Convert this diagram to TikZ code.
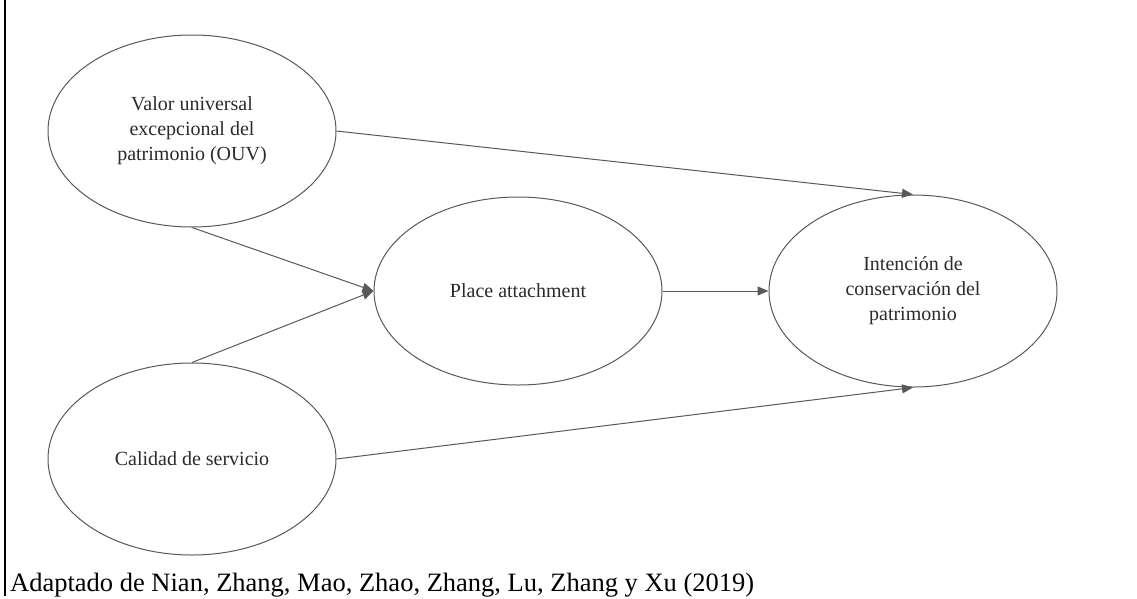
\documentclass[tikz,border=0pt]{standalone}
\usepackage{fontspec}
\setmainfont{Liberation Serif}
\usetikzlibrary{shapes.geometric,arrows.meta}
\definecolor{linegray}{HTML}{595959}
\definecolor{textgray}{HTML}{2B2B2B}
\tikzset{
  construct/.style={ellipse, draw=linegray, line width=1pt, fill=white,
    minimum width=288pt, minimum height=192pt, inner sep=0pt,
    align=center, text=textgray, font=\fontsize{20}{25}\selectfont},
  link/.style={draw=linegray, line width=1pt,
    -{Triangle[length=11pt,width=9pt]}, shorten >=0pt},
}
\begin{document}
\begin{tikzpicture}[x=1pt,y=-1pt]
\useasboundingbox (0,0) rectangle (1137,598);
\fill[white] (0,0) rectangle (1137,598);
\coordinate (ftop) at (5,0);
\coordinate (fbot) at (5,596);
\draw[black, line width=1.5pt] (ftop) -- (fbot);

\node[construct] (ouv) at (192,131) {Valor universal\\excepcional del\\patrimonio (OUV)};
\node[construct] (cal) at (192,459) {Calidad de servicio};
\node[construct, minimum height=188pt] (pa) at (518,291) {Place attachment};
\node[construct] (int) at (913,291) {Intención de\\conservación del\\patrimonio};

\draw[link] (ouv.east) -- (int.north);
\draw[link] (ouv.south) -- (pa.west);
\draw[link] (cal.north) -- (pa.west);
\draw[link] (pa.east) -- (int.west);
\draw[link] (cal.east) -- (int.south);

\node[anchor=base west, inner sep=0pt, font=\fontsize{26.5}{30}\selectfont] (src) at (10,591)
  {Adaptado de Nian, Zhang, Mao, Zhao, Zhang, Lu, Zhang y Xu (2019)};
\end{tikzpicture}
\end{document}
